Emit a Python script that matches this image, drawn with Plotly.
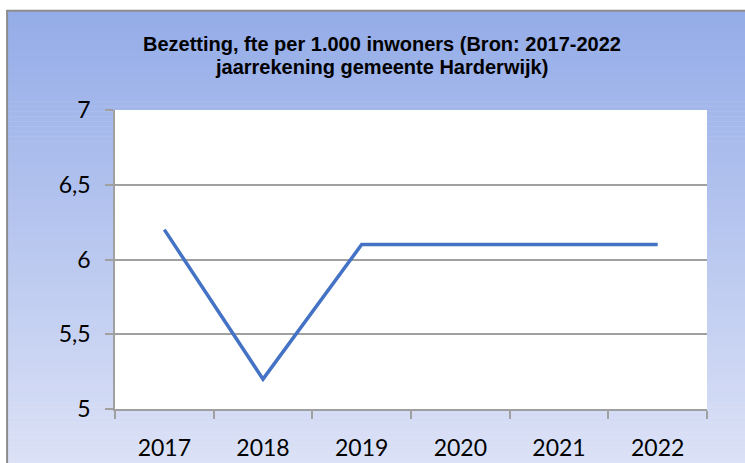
import plotly.graph_objects as go

years = ["2017", "2018", "2019", "2020", "2021", "2022"]
fte_per_1000 = [6.2, 5.2, 6.1, 6.1, 6.1, 6.1]
y_ticks = [5, 5.5, 6, 6.5, 7]
title_lines = ["Bezetting, fte per 1.000 inwoners (Bron: 2017-2022",
               "jaarrekening gemeente Harderwijk)"]

W, H = 745, 463
L, R, T, B = 115, 37.5, 109.5, 53.5
pw, ph = W - L - R, H - T - B

def px_to_paper_x(px):
    return (px - L) / pw

def py_to_paper_y(py):
    return (H - B - py) / ph

fig = go.Figure()
fig.add_trace(go.Scatter(
    x=years, y=fte_per_1000, mode="lines",
    line=dict(color="#4472C4", width=3.5),
    hoverinfo="x+y", showlegend=False,
))

shapes = []
top_c = (148, 172, 232)
bot_c = (219, 225, 246)
y_start, y_end = 10, 463
n = 90
step = (y_end - y_start) / n
for i in range(n):
    t = (i + 0.5) / n
    c = tuple(int(round(top_c[k] + (bot_c[k] - top_c[k]) * t)) for k in range(3))
    y0 = y_start + i * step
    y1 = y0 + step + 0.6
    shapes.append(dict(
        type="rect", xref="paper", yref="paper", layer="below",
        x0=px_to_paper_x(7), x1=px_to_paper_x(W + 2),
        y0=py_to_paper_y(y1), y1=py_to_paper_y(y0),
        fillcolor="rgb(%d,%d,%d)" % c, line=dict(width=0),
    ))
# white plot area
shapes.append(dict(type="rect", xref="paper", yref="paper", layer="below",
                   x0=0, x1=1, y0=0, y1=1, fillcolor="white", line=dict(width=0)))
# outer border (left & top)
shapes.append(dict(type="line", xref="paper", yref="paper", layer="above",
                   x0=px_to_paper_x(7), x1=px_to_paper_x(7),
                   y0=py_to_paper_y(H + 2), y1=py_to_paper_y(10),
                   line=dict(color="#8c8c8c", width=2)))
shapes.append(dict(type="line", xref="paper", yref="paper", layer="above",
                   x0=px_to_paper_x(6), x1=px_to_paper_x(W + 2),
                   y0=py_to_paper_y(10), y1=py_to_paper_y(10),
                   line=dict(color="#8c8c8c", width=2)))

title_font = dict(family="Liberation Sans", size=20, color="black", weight="bold")
annotations = [
    dict(text=title_lines[0], xref="paper", yref="paper",
         x=px_to_paper_x(382), y=py_to_paper_y(43), xanchor="center", yanchor="middle",
         showarrow=False, font=title_font),
    dict(text=title_lines[1], xref="paper", yref="paper",
         x=px_to_paper_x(382), y=py_to_paper_y(66), xanchor="center", yanchor="middle",
         showarrow=False, font=title_font),
]

fig.update_layout(
    width=W, height=H,
    margin=dict(l=L, r=R, t=T, b=B, pad=0, autoexpand=False),
    paper_bgcolor="white",
    plot_bgcolor="rgba(0,0,0,0)",
    separators=",.",
    shapes=shapes,
    annotations=annotations,
    xaxis=dict(
        type="category", range=[-0.5, len(years) - 0.5],
        tickson="boundaries", ticks="outside", ticklen=8,
        tickcolor="#a0a0a0", tickwidth=1.5,
        showline=True, linecolor="#a0a0a0", linewidth=1.5,
        showgrid=False, zeroline=False, automargin=False,
        tickfont=dict(family="Lato", size=23, color="black"),
        ticklabelstandoff=18,
    ),
    yaxis=dict(
        range=[5, 7], tickvals=y_ticks, ticks="outside", ticklen=8,
        tickcolor="#a0a0a0", tickwidth=1.5,
        showline=True, linecolor="#a0a0a0", linewidth=1.5,
        showgrid=True, gridcolor="#a0a0a0", gridwidth=1.5,
        zeroline=False, automargin=False,
        tickfont=dict(family="Lato", size=23, color="black"),
        ticklabelstandoff=10,
    ),
)

fig.write_html("out.html", config={"displayModeBar": False},
               post_script="document.body.style.margin='0';document.body.style.overflow='hidden';")
